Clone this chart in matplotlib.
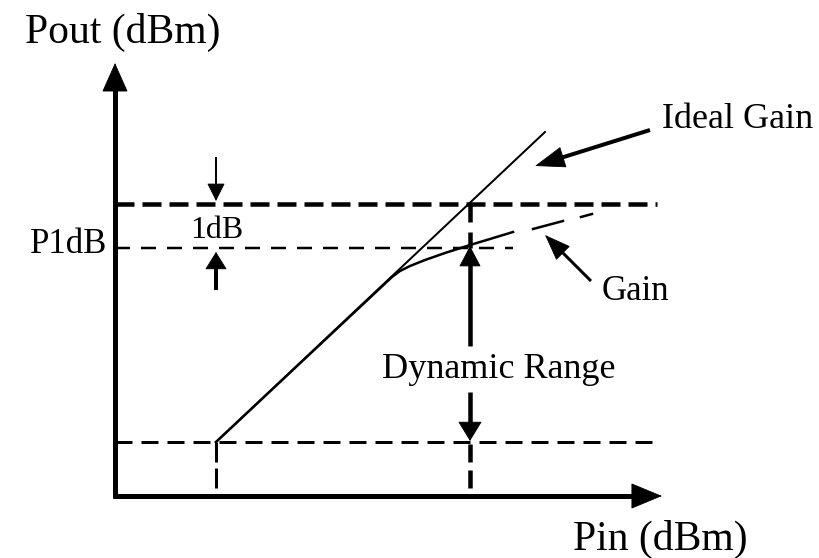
import numpy as np
import matplotlib
matplotlib.use("Agg")
import matplotlib.pyplot as plt
from matplotlib.patches import FancyArrowPatch

# diagram laid out in pixel units of the 819x558 picture (y grows downwards)
W, H = 819, 558
origin = (115, 496)
x_tip, y_tip = 662, 63

# power levels (y) and input levels (x)
sat_level = 204      # ideal output at compression point
p1db_level = 248     # actual output (P1dB)
floor_level = 442    # noise floor
pin_min = 216
pin_p1db = 470

ideal_x = [216, 545]
ideal_y = [442, 132]

gain_x = [216, 392, 400, 410, 425, 445, 470, 490, 513]
gain_y = [442, 277, 271, 266, 260, 253, 245, 239, 232]
gain_dash1_x = [533, 563]
gain_dash1_y = [229, 221]
gain_dash2_x = [581, 592]
gain_dash2_y = [217, 214]

PT = 0.72  # px -> pt at dpi 100

fig = plt.figure(figsize=(W / 100, H / 100), dpi=100)
ax = fig.add_axes([0, 0, 1, 1])
ax.set_xlim(0, W)
ax.set_ylim(H, 0)
ax.axis("off")

serif = "Liberation Serif"


def dashed(x, y, lw, on, off):
    ax.plot(x, y, color="black", lw=lw * PT, solid_capstyle="butt",
            dash_capstyle="butt", linestyle=(0, (on / lw, off / lw)))


def arrow(tail, tip, lw, hl, hw):
    # shaft as a plain line, head as a thin-outlined filled wedge (sizes in px)
    tail = np.array(tail, float)
    tip = np.array(tip, float)
    d = (tip - tail) / np.hypot(*(tip - tail))
    base = tip - d * hl
    stop = tip - d * hl * 0.7
    ax.plot([tail[0], stop[0]], [tail[1], stop[1]], color="black",
            lw=lw * PT, solid_capstyle="butt")
    style = "-|>,head_length=%.3f,head_width=%.3f" % (hl * PT, hw * PT)
    p = FancyArrowPatch(tuple(base), tuple(tip), arrowstyle=style,
                        mutation_scale=1, lw=0.6, color="black",
                        shrinkA=0, shrinkB=0)
    ax.add_patch(p)


# axes
arrow((origin[0], origin[1] + 2), (origin[0], y_tip), 5, 27, 12)
arrow((origin[0] - 2, origin[1]), (x_tip, origin[1]), 5, 29, 12)

# horizontal reference levels
dashed([origin[0], 657], [sat_level, sat_level], 4.5, 19, 8)
dashed([origin[0], 513], [p1db_level, p1db_level], 2.5, 15, 11)
dashed([origin[0], 657], [floor_level, floor_level], 3, 17, 9)

# vertical markers
dashed([pin_min, pin_min], [floor_level, origin[1]], 3, 20, 6)
dashed([pin_p1db, pin_p1db], [sat_level, p1db_level], 4.5, 18, 10)
dashed([pin_p1db, pin_p1db], [floor_level + 2, origin[1]], 4.5, 18, 8)

# curves
ax.plot(ideal_x, ideal_y, color="black", lw=2 * PT)
ax.plot(gain_x, gain_y, color="black", lw=2.5 * PT, solid_joinstyle="round")
ax.plot(gain_dash1_x, gain_dash1_y, color="black", lw=2.5 * PT)
ax.plot(gain_dash2_x, gain_dash2_y, color="black", lw=2.5 * PT)

# 1 dB arrows
arrow((pin_min, 157), (pin_min, sat_level - 3), 2, 16, 8)
arrow((pin_min, 290), (pin_min, p1db_level + 4), 4, 16, 10)

# dynamic range arrows
arrow((pin_p1db, 346), (pin_p1db, p1db_level - 2), 4.5, 19, 10)
arrow((pin_p1db, 392), (pin_p1db, floor_level - 1), 4.5, 18, 11)

# callouts
arrow((650, 130), (535, 166), 4, 28, 10)
arrow((591, 281), (545, 235), 3, 24, 9)

# labels
ax.text(25, 43, "Pout (dBm)", family=serif, fontsize=30, va="baseline")
ax.text(573, 550, "Pin (dBm)", family=serif, fontsize=30, va="baseline")
ax.text(107, 253, "P1dB", family=serif, fontsize=25, va="baseline", ha="right")
ax.text(217, 238, "1dB", family=serif, fontsize=23, va="baseline", ha="center")
ax.text(662, 128, "Ideal Gain", family=serif, fontsize=26, va="baseline")
ax.text(602, 300, "Gain", family=serif, fontsize=25, va="baseline")
ax.text(382, 378, "Dynamic Range", family=serif, fontsize=26, va="baseline")

fig.savefig("out.png", dpi=100)
